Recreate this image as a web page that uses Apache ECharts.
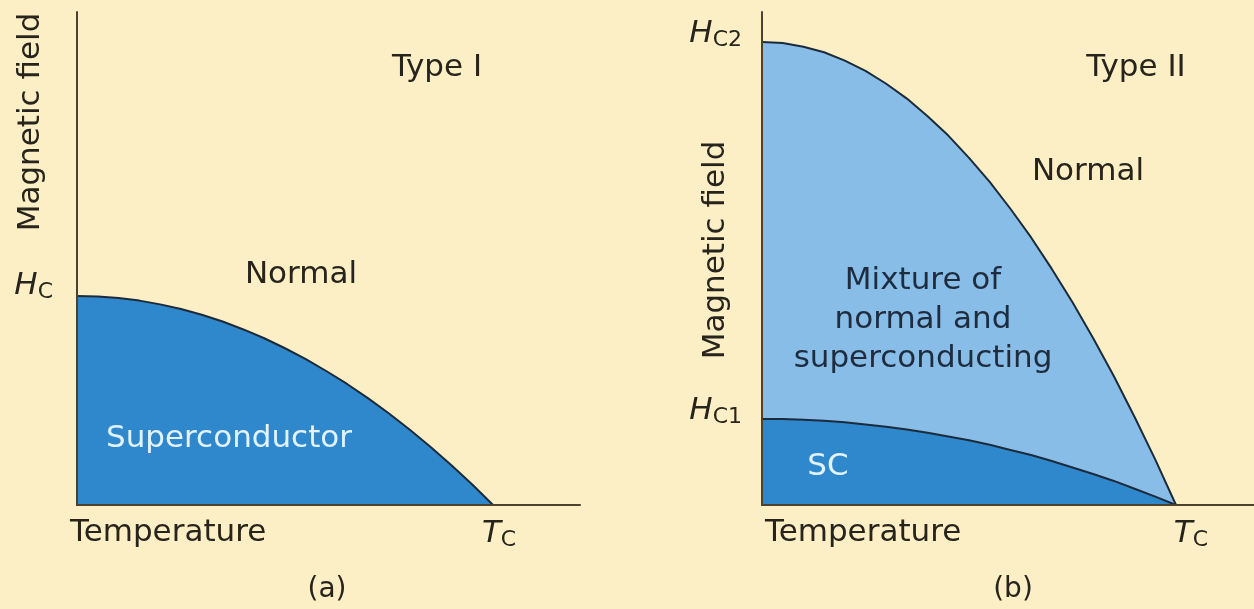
<!DOCTYPE html>
<html>
<head>
<meta charset="utf-8">
<style>
html,body{margin:0;padding:0;background:#fcefc5;}
#chart{width:1254px;height:609px;}
</style>
<script src="https://cdn.jsdelivr.net/npm/echarts@6.0.0/dist/echarts.min.js"></script>
</head>
<body>
<div id="chart"></div>
<script>
// ---- Data (temperature in units where Tc = 10, field in units of the critical field) ----
const temps = [0,0.5,1,1.5,2,2.5,3,3.5,4,4.5,5,5.5,6,6.5,7,7.5,8,8.5,9,9.5,10];
// Type I: critical field curve Hc(T), Hc(0) = 1
const hcType1 = [1.000,0.998,0.990,0.978,0.960,0.938,0.910,0.878,0.840,0.798,0.750,0.698,0.640,0.578,0.510,0.438,0.360,0.278,0.190,0.098,0.000];
// Type II: upper critical field Hc2(T), Hc2(0) = 1
const hc2Type2 = [1.000,0.998,0.990,0.978,0.960,0.938,0.910,0.878,0.840,0.798,0.750,0.698,0.640,0.578,0.510,0.438,0.360,0.278,0.190,0.098,0.000];
// Type II: lower critical field Hc1(T)
const hc1Type2 = [0.186,0.186,0.184,0.182,0.179,0.174,0.169,0.163,0.156,0.148,0.140,0.130,0.119,0.108,0.095,0.081,0.067,0.052,0.035,0.018,0.000];
const TC = 10;
const HC = 1.0, HC2 = 1.0, HC1 = 0.186;
const titles = ['Type I', 'Type II'];
const panelTags = ['(a)', '(b)'];

const pairs = (ys) => temps.map((t, i) => [t, ys[i]]);

const FONT = 'DejaVu Sans';
const TXT = '#26241c';
const DARK = '#2f88cb';
const LIGHT = '#88bde8';
const EDGE = '#1b2b3c';
const AXIS = '#4b4130';

const rich = {
  h: {fontFamily: FONT, fontStyle: 'italic', fontSize: 31, color: TXT, lineHeight: 34},
  s: {fontFamily: FONT, fontSize: 22, color: TXT, lineHeight: 4, verticalAlign: 'bottom'}
};

function axisBase() {
  return {
    type: 'value', min: 0, z: 5,
    axisLine: {show: true, onZero: false, lineStyle: {color: AXIS, width: 2}},
    axisTick: {show: false}, splitLine: {show: false}
  };
}

const chart = echarts.init(document.getElementById('chart'), null, {renderer: 'canvas'});

function txt(x, y, text, extra) {
  return {type: 'text', x: x, y: y, z: 10, style: Object.assign({
    text: text, fontFamily: FONT, fontSize: 31, fill: TXT,
    align: 'center', verticalAlign: 'middle'}, extra || {})};
}

const option = {
  backgroundColor: '#fcefc5',
  animation: false,
  grid: [
    {left: 77, top: 12, width: 503, height: 493},
    {left: 762, top: 12, width: 492, height: 493}
  ],
  xAxis: [
    Object.assign(axisBase(), {gridIndex: 0, max: 12.09,
      axisLabel: {show: true, customValues: [TC], margin: 12, padding: [0,0,0,12],
        formatter: () => '{h|T}{s|C}', rich: rich}}),
    Object.assign(axisBase(), {gridIndex: 1, max: 11.884,
      axisLabel: {show: true, customValues: [TC], margin: 12, padding: [0,0,0,30],
        formatter: () => '{h|T}{s|C}', rich: rich}})
  ],
  yAxis: [
    Object.assign(axisBase(), {gridIndex: 0, max: 2.359,
      axisLabel: {show: true, customValues: [HC], margin: 24, padding: [0,0,20,0],
        formatter: () => '{h|H}{s|C}', rich: rich}}),
    Object.assign(axisBase(), {gridIndex: 1, max: 1.065,
      axisLabel: {show: true, customValues: [HC1, HC2], margin: 20, padding: [0,0,16,0],
        formatter: (v) => v > 0.5 ? '{h|H}{s|C2}' : '{h|H}{s|C1}', rich: rich}})
  ],
  series: [
    {type: 'line', xAxisIndex: 0, yAxisIndex: 0, data: pairs(hcType1), symbol: 'none', z: 2,
      lineStyle: {color: EDGE, width: 2}, areaStyle: {color: DARK, opacity: 1}},
    {type: 'line', xAxisIndex: 1, yAxisIndex: 1, data: pairs(hc2Type2), symbol: 'none', z: 2,
      lineStyle: {color: EDGE, width: 2}, areaStyle: {color: LIGHT, opacity: 1}},
    {type: 'line', xAxisIndex: 1, yAxisIndex: 1, data: pairs(hc1Type2), symbol: 'none', z: 3,
      lineStyle: {color: EDGE, width: 2}, areaStyle: {color: DARK, opacity: 1}}
  ],
  graphic: [
    txt(437, 68, titles[0]),
    txt(301, 275, 'Normal'),
    txt(229, 439, 'Superconductor', {fill: '#e2f2ff'}),
    txt(70, 533, 'Temperature', {align: 'left'}),
    {type: 'text', x: 31, y: 122, rotation: Math.PI / 2, z: 10,
      style: {text: 'Magnetic field', fontFamily: FONT, fontSize: 31, fill: TXT, align: 'center', verticalAlign: 'middle'}},
    txt(327, 590, panelTags[0], {fontSize: 28}),

    txt(1136, 68, titles[1]),
    txt(1088, 172, 'Normal'),
    txt(923, 320, 'Mixture of\nnormal and\nsuperconducting', {fill: '#1e2c3e', lineHeight: 39}),
    txt(828, 467, 'SC', {fill: '#e2f2ff'}),
    txt(765, 533, 'Temperature', {align: 'left'}),
    {type: 'text', x: 716, y: 250, rotation: Math.PI / 2, z: 10,
      style: {text: 'Magnetic field', fontFamily: FONT, fontSize: 31, fill: TXT, align: 'center', verticalAlign: 'middle'}},
    txt(1013, 590, panelTags[1], {fontSize: 28})
  ]
};
chart.setOption(option);
</script>
</body>
</html>
